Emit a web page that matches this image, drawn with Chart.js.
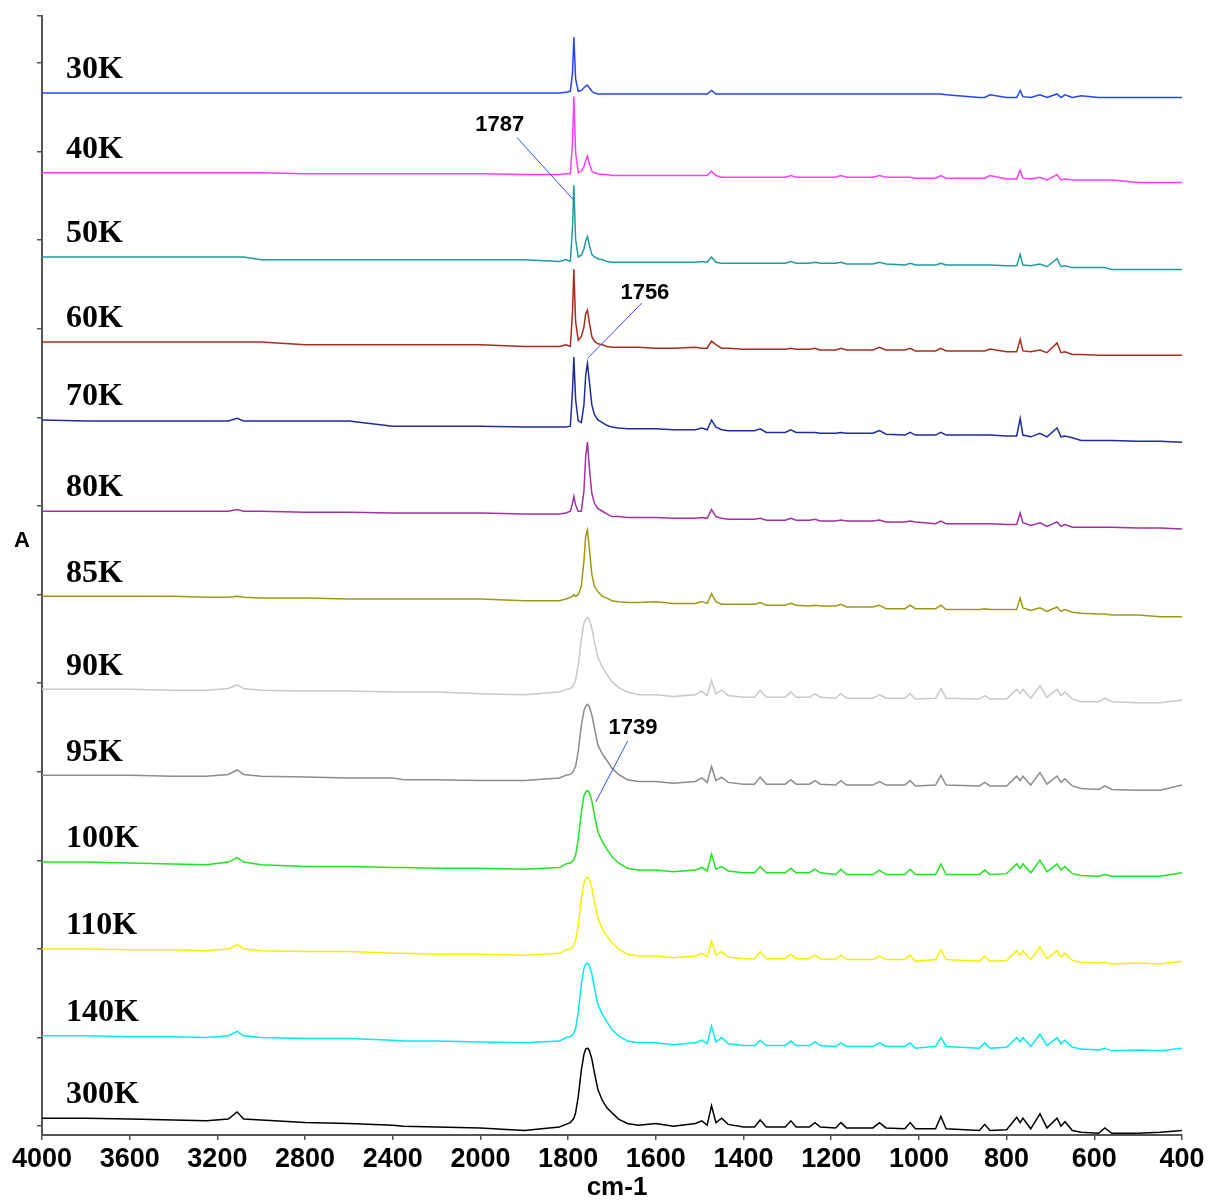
<!DOCTYPE html>
<html>
<head>
<meta charset="utf-8">
<script src="https://cdn.jsdelivr.net/npm/chart.js@4.4.1/dist/chart.umd.min.js"></script>
<style>
  body { margin: 0; background: #fff; }
  canvas { display: block; }
</style>
</head>
<body>
<canvas id="espectros" width="1218" height="1200"></canvas>
<script>
// numeros de onda (cm-1) comuns a todos os espectros
var numeroOnda = [
    4000, 3800, 3600, 3400, 3250, 3150, 3110, 3080, 3000, 2800, 2600, 2400, 2350, 2200, 2000,
    1900, 1820, 1805, 1795, 1790, 1787, 1783, 1777, 1770, 1764, 1760, 1756, 1752, 1746, 1740, 1732, 1722, 1712, 1700, 1685, 1665, 1640, 1600,
    1560, 1510, 1495, 1483, 1473, 1463, 1450, 1435,
    1400, 1375, 1362, 1348,
    1305, 1292, 1280,
    1250, 1237, 1225,
    1190, 1178, 1165,
    1105, 1090, 1075,
    1032, 1020, 1008,
    962, 950, 938,
    862, 850, 838,
    800, 777, 769, 763, 745, 724, 708, 685, 676, 667, 650,
    630, 590, 576, 560,
    500, 450, 400
];

var temperaturas = ["30K", "40K", "50K", "60K", "70K", "80K", "85K", "90K", "95K", "100K", "110K", "140K", "300K"];

// linha de base de cada espectro (empilhamento)
var deslocamento = [11.66, 10.76, 9.81, 8.85, 7.97, 6.94, 5.98, 4.93, 3.96, 2.98, 2.00, 1.02, 0.09];

var rotulosX = ["4000", "3600", "3200", "2800", "2400", "2000", "1800", "1600", "1400", "1200", "1000", "800", "600", "400"];
var ticksY = [0, 1, 2, 3, 4, 5, 6, 7, 8, 9, 10, 11, 12, 12.53];

var a30 = [
    0, 0, 0, 0, 0, 0, 0, 0, 0, 0, 0, 0, 0, 0, 0,
    0, 0, 0.01, 0.02, 0.23, 0.63, 0.16, 0.02, 0.03, 0.06, 0.08, 0.09, 0.06, 0.02, 0, -0.01, -0.01, -0.01, -0.01, -0.01, -0.01, -0.01, -0.01,
    -0.01, -0.01, -0.01, -0.01, 0.03, -0.01, -0.01, -0.01,
    -0.01, -0.01, -0.01, -0.01,
    -0.01, -0.01, -0.01,
    -0.01, -0.01, -0.01,
    -0.01, -0.01, -0.01,
    -0.01, -0.01, -0.01,
    -0.01, -0.01, -0.01,
    -0.01, -0.01, -0.02,
    -0.05, -0.05, -0.02,
    -0.05, -0.05, 0.03, -0.04, -0.05, -0.02, -0.05, -0.01, -0.05, -0.02, -0.05,
    -0.03, -0.05, -0.05, -0.05,
    -0.05, -0.05, -0.05
];
var a40 = [
    0, 0, 0, 0, 0, 0, 0, 0, 0, -0.01, -0.01, -0.01, -0.01, -0.01, -0.01,
    -0.02, -0.02, -0.01, -0.01, 0.34, 0.86, 0.23, 0, 0.02, 0.07, 0.14, 0.19, 0.11, 0.02, 0, -0.01, -0.02, -0.02, -0.03, -0.03, -0.03, -0.03, -0.03,
    -0.03, -0.03, -0.03, -0.03, 0.02, -0.03, -0.05, -0.05,
    -0.05, -0.05, -0.05, -0.05,
    -0.05, -0.03, -0.05,
    -0.05, -0.05, -0.05,
    -0.05, -0.03, -0.05,
    -0.05, -0.03, -0.05,
    -0.05, -0.05, -0.06,
    -0.06, -0.03, -0.06,
    -0.06, -0.06, -0.03,
    -0.07, -0.07, 0.03, -0.06, -0.07, -0.05, -0.08, -0.02, -0.08, -0.07, -0.08,
    -0.08, -0.08, -0.08, -0.08,
    -0.11, -0.11, -0.11
];
var a50 = [
    0, 0, 0, 0, 0, 0, 0, 0, -0.03, -0.03, -0.03, -0.03, -0.03, -0.03, -0.03,
    -0.03, -0.05, -0.03, -0.05, 0.34, 0.81, 0.20, 0, 0.02, 0.09, 0.18, 0.23, 0.14, 0.03, 0, -0.02, -0.03, -0.05, -0.06, -0.06, -0.06, -0.06, -0.06,
    -0.06, -0.06, -0.05, -0.06, 0, -0.06, -0.07, -0.07,
    -0.07, -0.07, -0.07, -0.07,
    -0.07, -0.05, -0.07,
    -0.07, -0.06, -0.07,
    -0.07, -0.06, -0.08,
    -0.08, -0.06, -0.08,
    -0.09, -0.07, -0.09,
    -0.09, -0.07, -0.09,
    -0.09, -0.09, -0.09,
    -0.10, -0.10, 0.03, -0.09, -0.10, -0.08, -0.11, -0.02, -0.11, -0.10, -0.12,
    -0.12, -0.12, -0.12, -0.14,
    -0.14, -0.14, -0.14
];
var a60 = [
    0, 0, 0, 0, 0, 0, 0, 0, 0, -0.03, -0.03, -0.03, -0.03, -0.03, -0.03,
    -0.05, -0.05, -0.03, -0.05, 0.34, 0.82, 0.23, 0.02, 0.06, 0.17, 0.32, 0.36, 0.23, 0.06, 0.01, -0.02, -0.03, -0.05, -0.06, -0.06, -0.06, -0.06, -0.07,
    -0.07, -0.06, -0.07, -0.07, 0.01, -0.03, -0.07, -0.07,
    -0.08, -0.08, -0.08, -0.08,
    -0.08, -0.07, -0.08,
    -0.08, -0.07, -0.09,
    -0.09, -0.07, -0.09,
    -0.09, -0.06, -0.09,
    -0.09, -0.07, -0.10,
    -0.10, -0.07, -0.10,
    -0.10, -0.10, -0.08,
    -0.11, -0.11, 0.03, -0.10, -0.11, -0.09, -0.12, -0.01, -0.12, -0.11, -0.14,
    -0.14, -0.15, -0.15, -0.15,
    -0.15, -0.15, -0.15
];
var a70 = [
    0, -0.01, -0.01, -0.01, -0.01, -0.01, 0.02, -0.01, -0.01, -0.01, -0.01, -0.07, -0.07, -0.07, -0.07,
    -0.08, -0.08, -0.08, -0.07, 0.34, 0.71, 0.23, -0.01, -0.03, 0.17, 0.51, 0.64, 0.45, 0.17, 0.06, 0, -0.03, -0.06, -0.08, -0.09, -0.10, -0.10, -0.10,
    -0.11, -0.11, -0.09, -0.11, 0, -0.08, -0.11, -0.12,
    -0.12, -0.12, -0.10, -0.14,
    -0.14, -0.11, -0.14,
    -0.14, -0.14, -0.15,
    -0.15, -0.14, -0.15,
    -0.15, -0.12, -0.16,
    -0.17, -0.14, -0.17,
    -0.17, -0.14, -0.17,
    -0.17, -0.17, -0.17,
    -0.18, -0.18, 0.02, -0.17, -0.19, -0.15, -0.19, -0.09, -0.19, -0.18, -0.20,
    -0.23, -0.23, -0.23, -0.23,
    -0.24, -0.24, -0.25
];
var a80 = [
    0, 0, 0, 0, 0, 0, 0.02, 0, 0, -0.01, -0.01, -0.02, -0.02, -0.02, -0.02,
    -0.03, -0.03, -0.02, 0, 0.09, 0.17, 0.07, 0, 0, 0.23, 0.62, 0.78, 0.51, 0.20, 0.09, 0.03, 0, -0.03, -0.06, -0.06, -0.07, -0.07, -0.07,
    -0.08, -0.08, -0.07, -0.08, 0.02, -0.06, -0.08, -0.09,
    -0.09, -0.09, -0.08, -0.10,
    -0.10, -0.08, -0.10,
    -0.10, -0.09, -0.11,
    -0.11, -0.10, -0.11,
    -0.11, -0.10, -0.12,
    -0.12, -0.11, -0.12,
    -0.14, -0.11, -0.14,
    -0.14, -0.14, -0.14,
    -0.15, -0.15, -0.02, -0.13, -0.16, -0.13, -0.17, -0.12, -0.17, -0.15, -0.18,
    -0.18, -0.18, -0.18, -0.18,
    -0.19, -0.19, -0.20
];
var a85 = [
    0, 0, 0, 0, -0.01, -0.01, 0, -0.01, -0.02, -0.02, -0.03, -0.03, -0.03, -0.03, -0.03,
    -0.05, -0.05, -0.03, -0.01, 0, 0.02, 0, 0.02, 0.11, 0.40, 0.68, 0.75, 0.56, 0.25, 0.11, 0.05, 0, -0.02, -0.05, -0.06, -0.07, -0.07, -0.06,
    -0.08, -0.08, -0.06, -0.08, 0.03, -0.06, -0.09, -0.09,
    -0.09, -0.09, -0.07, -0.10,
    -0.10, -0.08, -0.10,
    -0.11, -0.10, -0.11,
    -0.11, -0.09, -0.12,
    -0.12, -0.10, -0.14,
    -0.14, -0.10, -0.14,
    -0.14, -0.10, -0.15,
    -0.15, -0.14, -0.15,
    -0.15, -0.15, -0.02, -0.13, -0.16, -0.13, -0.17, -0.12, -0.17, -0.15, -0.18,
    -0.19, -0.20, -0.20, -0.21,
    -0.21, -0.23, -0.23
];
var a90 = [
    0, 0, 0, -0.01, -0.01, 0.01, 0.05, 0.01, -0.01, -0.02, -0.02, -0.03, -0.03, -0.03, -0.05,
    -0.06, -0.03, 0, 0.01, 0.03, 0.06, 0.10, 0.27, 0.56, 0.75, 0.79, 0.81, 0.79, 0.69, 0.53, 0.36, 0.25, 0.17, 0.09, 0.02, -0.03, -0.06, -0.06,
    -0.08, -0.06, -0.02, -0.07, 0.10, -0.05, -0.01, -0.07,
    -0.09, -0.09, -0.01, -0.09,
    -0.09, -0.03, -0.09,
    -0.09, -0.05, -0.09,
    -0.10, -0.05, -0.10,
    -0.10, -0.06, -0.10,
    -0.10, -0.05, -0.11,
    -0.10, 0.01, -0.10,
    -0.11, -0.07, -0.11,
    -0.11, 0, -0.05, 0, -0.10, 0.04, -0.09, 0, -0.07, -0.03, -0.11,
    -0.14, -0.14, -0.10, -0.14,
    -0.15, -0.15, -0.12
];
var a95 = [
    0, 0, 0, -0.01, -0.01, 0.01, 0.06, 0.01, -0.01, -0.02, -0.03, -0.03, -0.05, -0.05, -0.06,
    -0.06, -0.03, 0, 0.01, 0.03, 0.06, 0.10, 0.27, 0.56, 0.73, 0.78, 0.80, 0.78, 0.68, 0.53, 0.34, 0.24, 0.17, 0.08, 0.01, -0.05, -0.07, -0.07,
    -0.09, -0.07, -0.03, -0.08, 0.10, -0.06, -0.02, -0.08,
    -0.10, -0.10, -0.02, -0.10,
    -0.10, -0.05, -0.10,
    -0.10, -0.06, -0.10,
    -0.11, -0.06, -0.11,
    -0.11, -0.07, -0.11,
    -0.11, -0.06, -0.12,
    -0.11, 0, -0.11,
    -0.12, -0.08, -0.12,
    -0.12, -0.01, -0.06, -0.01, -0.11, 0.03, -0.10, -0.01, -0.08, -0.04, -0.12,
    -0.15, -0.16, -0.12, -0.16,
    -0.17, -0.17, -0.11
];
var a100 = [
    0, 0, -0.01, -0.02, -0.03, 0, 0.05, 0, -0.03, -0.05, -0.05, -0.06, -0.06, -0.07, -0.07,
    -0.08, -0.06, -0.02, -0.01, 0.01, 0.03, 0.08, 0.26, 0.56, 0.75, 0.79, 0.81, 0.79, 0.69, 0.53, 0.34, 0.23, 0.15, 0.06, -0.01, -0.07, -0.09, -0.09,
    -0.11, -0.09, -0.06, -0.10, 0.09, -0.08, -0.05, -0.10,
    -0.12, -0.12, -0.05, -0.12,
    -0.12, -0.07, -0.12,
    -0.12, -0.08, -0.12,
    -0.14, -0.08, -0.14,
    -0.14, -0.09, -0.14,
    -0.14, -0.08, -0.14,
    -0.14, -0.02, -0.14,
    -0.14, -0.09, -0.14,
    -0.13, -0.02, -0.07, -0.02, -0.12, 0.02, -0.11, -0.02, -0.09, -0.05, -0.13,
    -0.15, -0.16, -0.14, -0.16,
    -0.16, -0.16, -0.12
];
var a110 = [
    0, 0, -0.01, -0.01, -0.02, 0, 0.05, 0, -0.02, -0.03, -0.03, -0.05, -0.05, -0.06, -0.06,
    -0.07, -0.05, -0.01, 0, 0.02, 0.05, 0.09, 0.27, 0.56, 0.75, 0.79, 0.81, 0.79, 0.69, 0.53, 0.34, 0.23, 0.15, 0.07, 0, -0.06, -0.08, -0.08,
    -0.10, -0.08, -0.05, -0.09, 0.09, -0.07, -0.03, -0.09,
    -0.11, -0.11, -0.03, -0.11,
    -0.11, -0.06, -0.11,
    -0.11, -0.07, -0.11,
    -0.12, -0.07, -0.12,
    -0.12, -0.08, -0.12,
    -0.12, -0.07, -0.14,
    -0.12, -0.01, -0.12,
    -0.14, -0.08, -0.14,
    -0.13, -0.02, -0.07, -0.02, -0.12, 0.02, -0.11, -0.02, -0.09, -0.05, -0.13,
    -0.15, -0.16, -0.15, -0.17,
    -0.16, -0.17, -0.14
];
var a140 = [
    0, 0, -0.01, -0.01, -0.02, 0, 0.05, 0, -0.02, -0.03, -0.03, -0.05, -0.06, -0.06, -0.07,
    -0.08, -0.06, -0.02, -0.01, 0.01, 0.03, 0.08, 0.26, 0.58, 0.76, 0.81, 0.82, 0.80, 0.70, 0.54, 0.35, 0.24, 0.16, 0.07, 0, -0.06, -0.08, -0.08,
    -0.10, -0.08, -0.05, -0.09, 0.11, -0.07, -0.02, -0.09,
    -0.11, -0.11, -0.05, -0.11,
    -0.11, -0.06, -0.11,
    -0.11, -0.07, -0.11,
    -0.12, -0.08, -0.12,
    -0.12, -0.08, -0.12,
    -0.12, -0.08, -0.14,
    -0.12, -0.02, -0.12,
    -0.14, -0.08, -0.14,
    -0.13, -0.02, -0.07, -0.02, -0.12, 0.02, -0.11, -0.02, -0.09, -0.05, -0.13,
    -0.15, -0.16, -0.14, -0.17,
    -0.16, -0.17, -0.14
];
var a300 = [
    0, 0, -0.01, -0.02, -0.03, -0.01, 0.07, -0.01, -0.02, -0.05, -0.06, -0.08, -0.09, -0.10, -0.11,
    -0.14, -0.10, -0.07, -0.05, -0.02, 0, 0.06, 0.24, 0.54, 0.72, 0.78, 0.79, 0.77, 0.67, 0.51, 0.32, 0.20, 0.12, 0.06, -0.01, -0.06, -0.08, -0.06,
    -0.09, -0.06, -0.03, -0.08, 0.14, -0.05, 0, -0.07,
    -0.10, -0.10, -0.02, -0.10,
    -0.10, -0.03, -0.10,
    -0.10, -0.05, -0.10,
    -0.11, -0.05, -0.11,
    -0.11, -0.05, -0.11,
    -0.12, -0.05, -0.12,
    -0.12, 0.02, -0.12,
    -0.14, -0.07, -0.14,
    -0.13, 0.01, -0.05, 0, -0.12, 0.05, -0.11, 0, -0.09, -0.04, -0.14,
    -0.16, -0.17, -0.11, -0.17,
    -0.17, -0.16, -0.14
];

var espectros = [a30, a40, a50, a60, a70, a80, a85, a90, a95, a100, a110, a140, a300];

var cores = ["#2244ff", "#ff3cff", "#1e9c9c", "#a82c1c", "#1e2c9c", "#a032a0", "#9c9814",
             "#c8c8c8", "#8c8c8c", "#1ee61e", "#f2f200", "#00ecec", "#000000"];

// picos marcados: texto, posicao do texto e linha ate o pico
var notas = [
    { texto: "1787", onda: 1956, nivel: 11.30, de: [1917, 11.16], ate: [1787, 10.45] },
    { texto: "1756", onda: 1625, nivel: 9.40, de: [1632, 9.29], ate: [1755, 8.67] },
    { texto: "1739", onda: 1652, nivel: 4.49, de: [1664, 4.35], ate: [1737, 3.66] }
];

// eixo com escala dividida: 4000-2000 comprimido, 2000-400 expandido
function posicao(w) {
    if (w >= 2000) return (4000 - w) / 400;
    return 5 + (2000 - w) / 200;
}

var textos = {
    id: "textos",
    afterDraw: function (chart) {
        var ctx = chart.ctx;
        var x = chart.scales.x;
        var y = chart.scales.y;
        var area = chart.chartArea;
        ctx.save();

        ctx.fillStyle = "#000";
        ctx.textBaseline = "middle";
        ctx.textAlign = "left";
        ctx.font = 'bold 32px "Liberation Serif", "Times New Roman", serif';
        for (var k = 0; k < temperaturas.length; k++) {
            ctx.fillText(temperaturas[k], x.getPixelForValue(posicao(3890)), y.getPixelForValue(deslocamento[k] + 0.26));
        }

        ctx.font = 'bold 22px "Liberation Sans", Arial, sans-serif';
        ctx.textAlign = "center";
        for (var n = 0; n < notas.length; n++) {
            var nota = notas[n];
            ctx.strokeStyle = "#2f50ff";
            ctx.lineWidth = 1;
            ctx.beginPath();
            ctx.moveTo(x.getPixelForValue(posicao(nota.de[0])), y.getPixelForValue(nota.de[1]));
            ctx.lineTo(x.getPixelForValue(posicao(nota.ate[0])), y.getPixelForValue(nota.ate[1]));
            ctx.stroke();
            ctx.fillText(nota.texto, x.getPixelForValue(posicao(nota.onda)), y.getPixelForValue(nota.nivel));
        }

        ctx.font = 'bold 22px "Liberation Sans", Arial, sans-serif';
        ctx.fillText("A", area.left - 20, area.top + 525);

        ctx.font = 'bold 26px "Liberation Sans", Arial, sans-serif';
        ctx.fillText("cm-1", (area.left + area.right) / 2 + 5, area.bottom + 53);
        ctx.restore();
    }
};

var grafico = new Chart(document.getElementById("espectros"), {
    type: "line",
    data: {
        datasets: temperaturas.map(function (t, k) {
            return {
                label: t,
                data: numeroOnda.map(function (w, i) {
                    return { x: posicao(w), y: deslocamento[k] + espectros[k][i] };
                }),
                borderColor: cores[k],
                borderWidth: 1.5,
                pointRadius: 0,
                tension: 0,
                fill: false
            };
        })
    },
    options: {
        responsive: false,
        animation: false,
        layout: {
            padding: { top: 16, right: 36, left: 0, bottom: 0 }
        },
        plugins: {
            legend: { display: false },
            tooltip: { enabled: false }
        },
        scales: {
            x: {
                type: "linear",
                min: 0,
                max: 13,
                afterFit: function (s) { s.height = 65; },
                afterBuildTicks: function (s) {
                    s.ticks = rotulosX.map(function (r, i) { return { value: i }; });
                },
                ticks: {
                    callback: function (v) { return rotulosX[v]; },
                    font: { family: '"Liberation Sans", Arial, sans-serif', size: 27, weight: "bold" },
                    color: "#000",
                    padding: 3,
                    maxRotation: 0,
                    autoSkip: false
                },
                grid: { drawOnChartArea: false, drawTicks: true, tickLength: 5, color: "#555", lineWidth: 1.5 },
                border: { display: true, color: "#555", width: 2 }
            },
            y: {
                type: "linear",
                min: -0.1,
                max: 12.53,
                afterFit: function (s) { s.width = 42; },
                afterBuildTicks: function (s) {
                    s.ticks = ticksY.map(function (v) { return { value: v }; });
                },
                ticks: { display: false },
                grid: { drawOnChartArea: false, drawTicks: true, tickLength: 5, color: "#555", lineWidth: 1.5 },
                border: { display: true, color: "#555", width: 2 }
            }
        }
    },
    plugins: [textos]
});
</script>
</body>
</html>
